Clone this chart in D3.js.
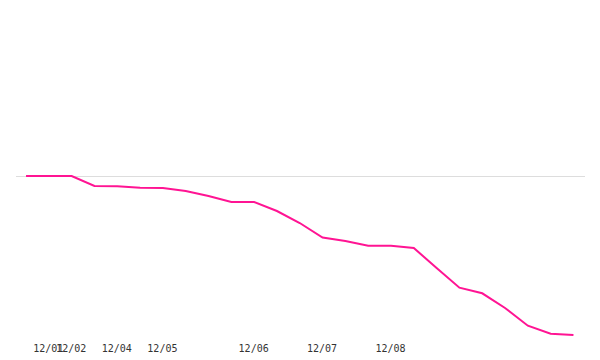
<!DOCTYPE html>
<html>
<head>
<meta charset="utf-8">
<script src="https://cdn.jsdelivr.net/npm/d3@7"></script>
<style>
  body { margin: 0; background: #fff; }
  .x-axis text { font-family: "DejaVu Sans Mono", monospace; font-size: 10px; fill: #333; }
</style>
</head>
<body>
<script>
// Data
var points = d3.range(25);
var values = [0, 0, 0, -1.0, -1.03, -1.17, -1.2, -1.5, -2.0, -2.6, -2.6, -3.5, -4.7, -6.15, -6.5,
              -6.97, -6.97, -7.2, -9.2, -11.17, -11.73, -13.2, -14.97, -15.77, -15.9];
var tickLabels = ["", "12/01", "12/02", "", "12/04", "", "12/05", "", "", "", "12/06", "", "",
                  "12/07", "", "", "12/08", "", "", "", "", "", "", "", ""];

// Margins
var margin = { top: 17, bottom: 25, left: 16, right: 15 };
var width = 600 - margin.left - margin.right;
var height = 360 - margin.top - margin.bottom;

var svg = d3.select("body").append("svg")
    .attr("width", 600)
    .attr("height", 360)
    .append("g")
    .attr("transform", "translate(" + margin.left + "," + margin.top + ")");

// Scales
var x = d3.scalePoint()
    .domain(points)
    .range([0, width - 1.5])
    .padding(0.44);

var yMax = d3.max(values, function(d) { return Math.abs(d); });
var y = d3.scaleLinear()
    .domain([-yMax, yMax])
    .range([height, 0]);

// Zero line
svg.append("line")
    .attr("x1", 0)
    .attr("x2", width)
    .attr("y1", Math.round(y(0)) + 0.5)
    .attr("y2", Math.round(y(0)) + 0.5)
    .attr("stroke", "#ddd")
    .attr("stroke-width", 1);

// X axis labels
svg.append("g")
    .attr("class", "x-axis")
    .attr("transform", "translate(-1," + height + ")")
    .call(d3.axisBottom(x)
        .tickValues(points.filter(function(i) { return tickLabels[i] !== ""; }))
        .tickFormat(function(i) { return tickLabels[i]; })
        .tickSize(0)
        .tickPadding(10))
    .call(function(g) { g.select(".domain").remove(); });

// Line
var line = d3.line()
    .x(function(d, i) { return x(points[i]); })
    .y(function(d) { return y(d); });

svg.append("path")
    .datum(values)
    .attr("fill", "none")
    .attr("stroke", "#ff1493")
    .attr("stroke-width", 2)
    .attr("d", line);
</script>
</body>
</html>
